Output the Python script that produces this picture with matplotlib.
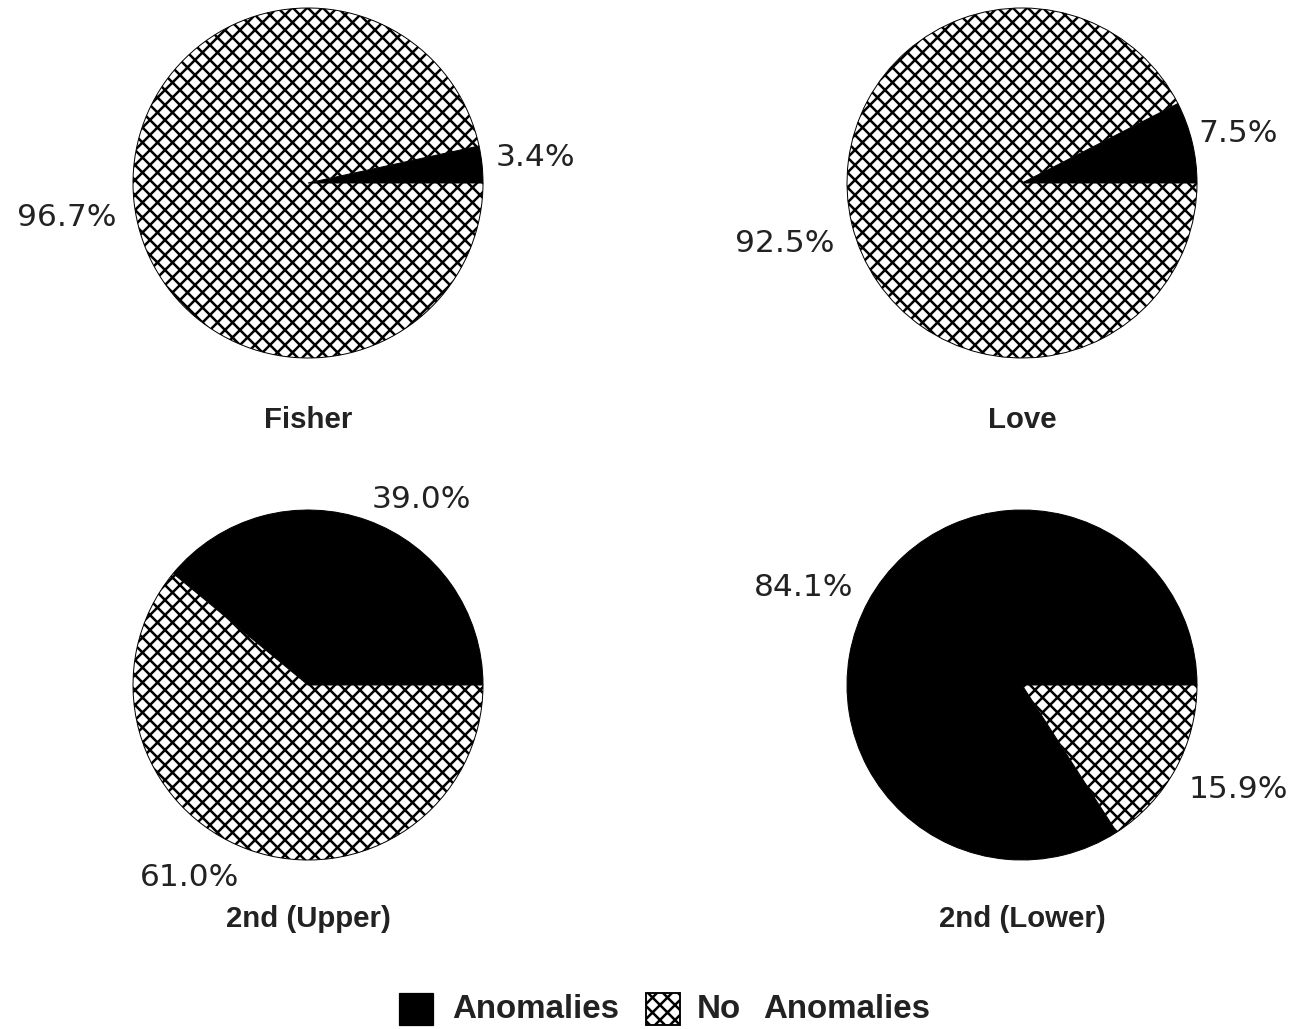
import matplotlib
matplotlib.use("Agg")
import matplotlib.pyplot as plt
from matplotlib.patches import Rectangle

plt.rcParams['font.family'] = ['Liberation Sans', 'DejaVu Sans']
plt.rcParams['hatch.linewidth'] = 2.0

titles = ["Fisher", "Love", "2nd (Upper)", "2nd (Lower)"]
anomalies = [3.4, 7.5, 39.0, 84.1]
no_anomalies = [96.7, 92.5, 61.0, 15.9]
legend_labels = ["Anomalies", "No", "Anomalies"]

W, H = 1297, 1029
DPI = 90
fig = plt.figure(figsize=(W / DPI, H / DPI), dpi=DPI)
ax = fig.add_axes([0, 0, 1, 1])
ax.axis('off')

centers = [(308, H - 183), (1022, H - 183), (308, H - 685), (1022, H - 685)]
radius = 175
title_pos = [(308, H - 420), (1022, H - 420), (308, H - 919), (1022, H - 919)]
anom_lbl = [(535, H - 157), (1238, H - 134), (421, H - 499), (804, H - 587)]
none_lbl = [(67, H - 218), (785, H - 243), (190, H - 877), (1238, H - 790)]

HATCH = 'xx'
TXT = '#222222'

for i in range(4):
    wedges, _ = ax.pie([anomalies[i], no_anomalies[i]], center=centers[i], radius=radius,
                       startangle=0, counterclock=True, normalize=True,
                       colors=['black', 'white'],
                       wedgeprops=dict(edgecolor='black', linewidth=0.8))
    wedges[1].set_hatch(HATCH)
    ax.text(*title_pos[i], titles[i], ha='center', va='center', fontsize=23.5,
            fontweight='bold', color=TXT)
    ax.text(*anom_lbl[i], f"{anomalies[i]:.1f}%", ha='center', va='center',
            fontsize=25, family='DejaVu Sans', color=TXT)
    ax.text(*none_lbl[i], f"{no_anomalies[i]:.1f}%", ha='center', va='center',
            fontsize=25, family='DejaVu Sans', color=TXT)

ax.set_xlim(0, W)
ax.set_ylim(0, H)
ax.set_aspect('equal')

# legend
ax.add_patch(Rectangle((399, H - 1025), 34, 32, facecolor='black', edgecolor='black'))
ax.text(452, H - 1010, legend_labels[0], ha='left', va='center', fontsize=26.5,
        fontweight='bold', color=TXT)
ax.add_patch(Rectangle((646, H - 1025), 34, 32, facecolor='white', edgecolor='black',
                       hatch=HATCH, linewidth=1.5))
ax.text(697, H - 1010, legend_labels[1], ha='left', va='center', fontsize=26.5,
        fontweight='bold', color=TXT)
ax.text(763, H - 1010, legend_labels[2], ha='left', va='center', fontsize=26.5,
        fontweight='bold', color=TXT)

fig.savefig('out.png', dpi=DPI, facecolor='white')
